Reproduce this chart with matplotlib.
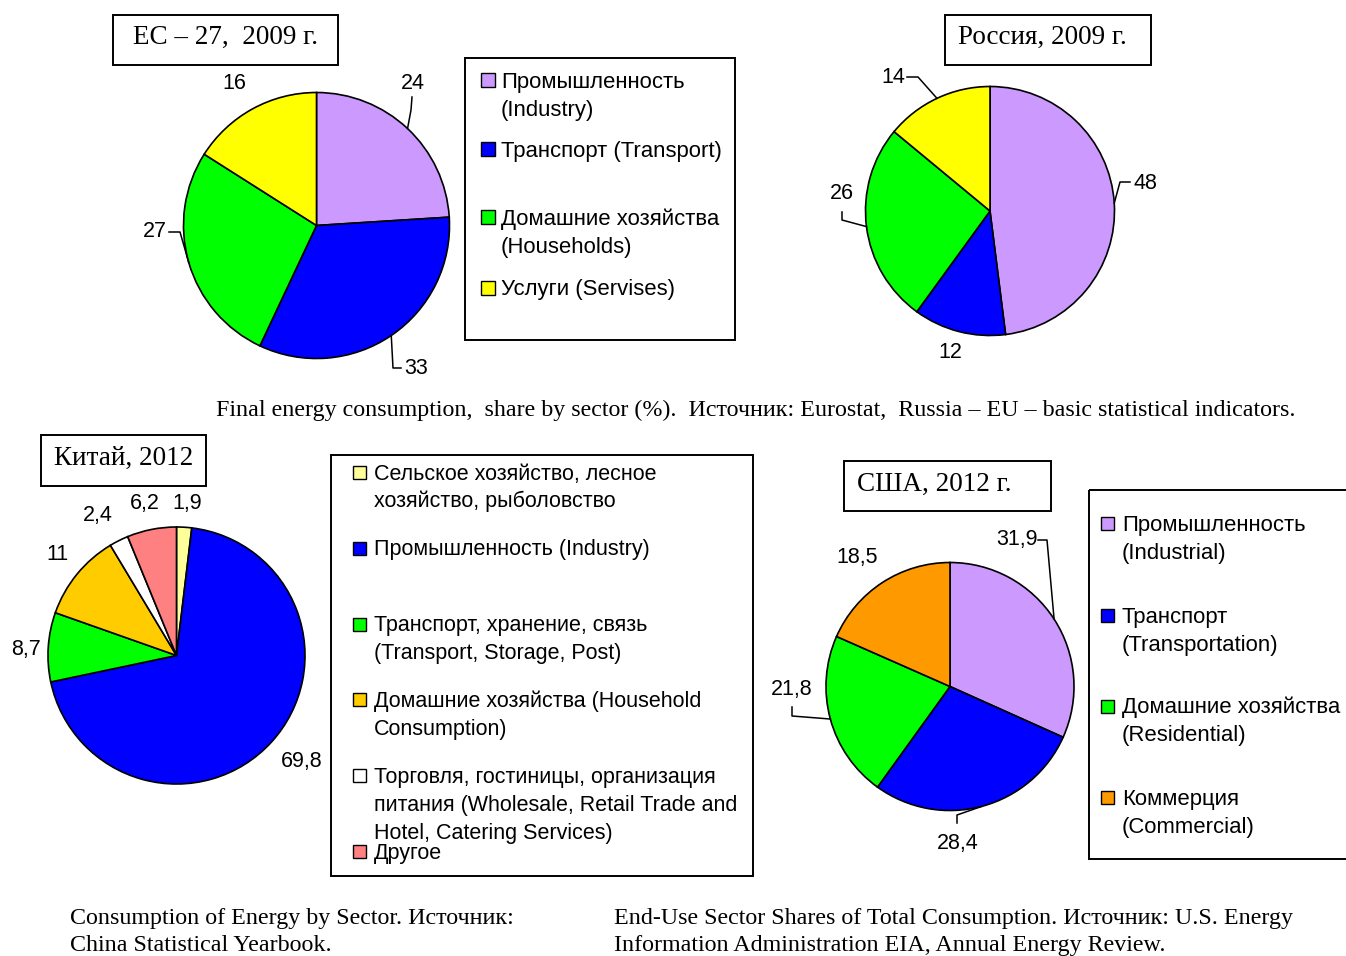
import matplotlib
matplotlib.use("Agg")
import matplotlib.pyplot as plt
from matplotlib.patches import Rectangle
import numpy as np

# ---------------- DATA ----------------
eu_labels = ["Промышленность\n(Industry)", "Транспорт (Transport)",
             "Домашние хозяйства\n(Households)", "Услуги (Servises)"]
eu_values = [24, 33, 27, 16]

ru_values = [48, 12, 26, 14]

cn_labels = ["Сельское хозяйство, лесное\nхозяйство, рыболовство",
             "Промышленность (Industry)",
             "Транспорт, хранение, связь\n(Transport, Storage, Post)",
             "Домашние хозяйства (Household\nConsumption)",
             "Торговля, гостиницы, организация\nпитания (Wholesale, Retail Trade and\nHotel, Catering Services)",
             "Другое"]
cn_values = [1.9, 69.8, 8.7, 11, 2.4, 6.2]

us_labels = ["Промышленность\n(Industrial)", "Транспорт\n(Transportation)",
             "Домашние хозяйства\n(Residential)", "Коммерция\n(Commercial)"]
us_values = [31.9, 28.4, 21.8, 18.5]

titles = ["ЕС – 27,  2009 г.", "Россия, 2009 г.", "Китай, 2012", "США, 2012 г."]
caption_top = "Final energy consumption,  share by sector (%).  Источник: Eurostat,  Russia – EU – basic statistical indicators."
caption_cn = ["Consumption of Energy by Sector. Источник:", "China Statistical Yearbook."]
caption_us = ["End-Use Sector Shares of Total Consumption. Источник: U.S. Energy",
              "Information Administration EIA, Annual Energy Review."]

# ---------------- STYLE ----------------
eu_colors = ["#CC99FF", "#0000FF", "#00FF00", "#FFFF00"]
cn_colors = ["#FFFF99", "#0000FF", "#00FF00", "#FFCC00", "#FFFFFF", "#FF8080"]
us_colors = ["#CC99FF", "#0000FF", "#00FF00", "#FF9900"]

SANS = "Liberation Sans"
SERIF = "Liberation Serif"
W, H = 1346, 956
LBL_FS = 15.5
TITLE_FS = 19.5
CAP_FS = 17.3

fig = plt.figure(figsize=(W / 100, H / 100), dpi=100)
fig.patch.set_facecolor("white")
ov = fig.add_axes([0, 0, 1, 1], zorder=5)
ov.set_xlim(0, W)
ov.set_ylim(H, 0)
ov.axis("off")
ov.patch.set_alpha(0)


def fmt(v):
    return f"{v:g}".replace(".", ",")


def draw_pie(values, colors, cx, cy, r):
    m = 4
    ax = fig.add_axes([(cx - r - m) / W, 1 - (cy + r + m) / H,
                       2 * (r + m) / W, 2 * (r + m) / H])
    wedges, _ = ax.pie(values, colors=colors, startangle=90, counterclock=False,
                       wedgeprops=dict(edgecolor="black", linewidth=1.2))
    lim = (r + m) / r
    ax.set_xlim(-lim, lim)
    ax.set_ylim(-lim, lim)
    ax.set_aspect("equal")
    ax.axis("off")
    edges = []
    for w in wedges:
        th = np.deg2rad((w.theta1 + w.theta2) / 2)
        edges.append((cx + r * np.cos(th), cy - r * np.sin(th)))
    return edges


def put_labels(values, edges, spec):
    for v, e, (x, y, ha, bend) in zip(values, edges, spec):
        ov.text(x, y, fmt(v), ha=ha, va="center", fontsize=LBL_FS, family=SANS)
        if bend:
            pts = list(bend) + [e]
            ov.plot([p[0] for p in pts], [p[1] for p in pts], color="black", lw=1.1)


def title_box(x0, y0, x1, y1, tx, base, text):
    ov.add_patch(Rectangle((x0, y0), x1 - x0, y1 - y0, fill=False, ec="black", lw=1.4))
    ov.text(tx, base, text, ha="left", va="baseline", fontsize=TITLE_FS, family=SERIF)


def legend_box(x0, y0, x1, y1, sq_x, sq, tx, ys, labels, colors, fs):
    ov.add_patch(Rectangle((x0, y0), x1 - x0, y1 - y0, fill=False, ec="black", lw=1.4))
    step = 28
    for y, lab, c in zip(ys, labels, colors):
        ov.add_patch(Rectangle((sq_x, y - sq / 2), sq, sq, fc=c, ec="black", lw=1.0))
        for i, line in enumerate(lab.split("\n")):
            ov.text(tx, y + 7.5 + i * step, line, ha="left", va="baseline",
                    fontsize=fs, family=SANS)


# ---- EU ----
e = draw_pie(eu_values, eu_colors, 316.5, 225.5, 133)
put_labels(eu_values, e, [
    (413, 83, "center", [(412, 97), (411, 110)]),
    (404, 369, "left", [(401, 368), (393, 368)]),
    (167, 231, "right", [(169, 232), (180, 232)]),
    (234, 83, "center", None),
])
title_box(113, 15, 338, 65, 133, 44, titles[0])
legend_box(465, 58, 735, 340, 481, 14, 501, [80, 149, 217, 288], eu_labels, eu_colors, 15.9)

# ---- Russia ----
e = draw_pie(ru_values, eu_colors, 990, 211, 124.5)
put_labels(ru_values, e, [
    (1133, 183, "left", [(1130, 182), (1120, 182)]),
    (950, 353, "center", None),
    (842, 193, "center", [(842, 212), (842, 220)]),
    (905, 77, "right", [(907, 77), (918, 77)]),
])
title_box(945, 15, 1151, 65, 958, 44, titles[1])

ov.text(216, 416, caption_top, ha="left", va="baseline", fontsize=CAP_FS, family=SERIF)

# ---- China ----
e = draw_pie(cn_values, cn_colors, 176.5, 655.5, 128.5)
put_labels(cn_values, e, [
    (187, 503, "center", None),
    (302, 762, "center", None),
    (26, 650, "center", None),
    (57, 555, "center", None),
    (98, 516, "center", None),
    (145, 504, "center", None),
])
title_box(41, 435, 206, 486, 54, 465, titles[2])
legend_box(331, 455, 753, 876, 353, 13, 374, [472, 548, 624, 699, 775, 851],
           cn_labels, cn_colors, 15.5)

# ---- USA ----
e = draw_pie(us_values, us_colors, 950, 686.5, 124)
put_labels(us_values, e, [
    (1017, 540, "center", [(1038, 540), (1047, 540)]),
    (958, 843, "center", [(957, 823), (957, 815)]),
    (792, 689, "center", [(792, 707), (792, 716)]),
    (857, 557, "center", None),
])
title_box(844, 461, 1051, 511, 857, 491, titles[3])
legend_box(1089, 490, 1352, 859, 1101, 13, 1122, [523, 615, 706, 797], us_labels, us_colors, 15.9)

for i, line in enumerate(caption_cn):
    ov.text(70, 924 + 27 * i, line, ha="left", va="baseline", fontsize=CAP_FS, family=SERIF)
for i, line in enumerate(caption_us):
    ov.text(614, 924 + 27 * i, line, ha="left", va="baseline", fontsize=CAP_FS, family=SERIF)

fig.savefig("out.png", dpi=100)
